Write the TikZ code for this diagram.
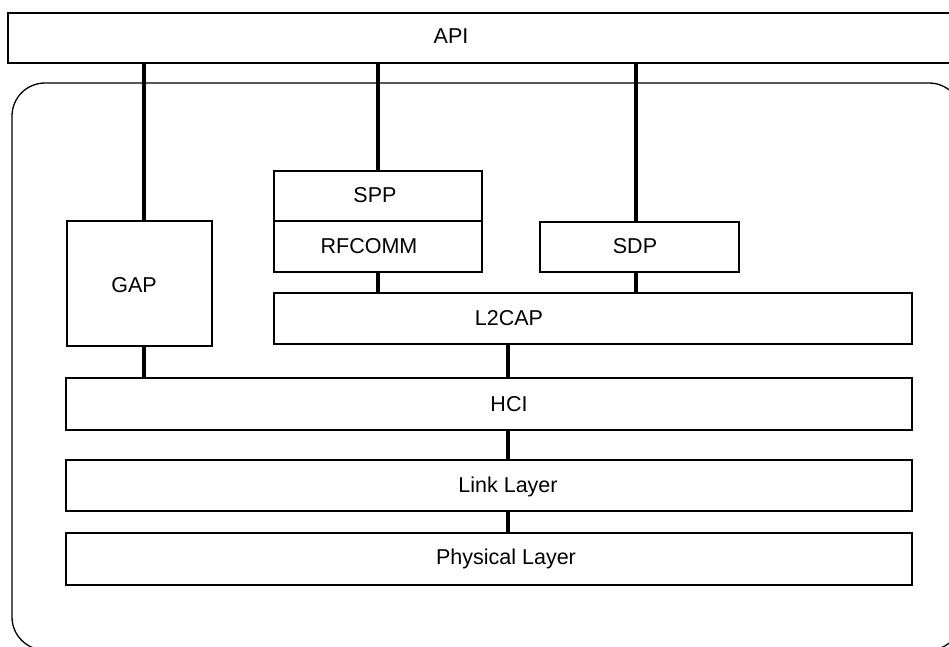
\documentclass[tikz,border=0pt]{standalone}
\usepackage{fontspec}
\setmainfont{Liberation Sans}
\begin{document}
\begin{tikzpicture}[x=1pt,y=-1pt,
  layerbox/.style={draw=black,line width=2pt,rectangle,inner sep=0pt},
  outerbox/.style={draw=black,line width=1.3pt,rounded corners=33pt},
  conn/.style={draw=black,line width=4pt},
  lbl/.style={anchor=base,inner sep=0pt,font=\fontsize{21.5}{24}\selectfont}]
\useasboundingbox (0,0) rectangle (949,646);
\clip (0,0) rectangle (949,646);
% outer rounded frame
\draw[outerbox] (12,83) rectangle (962,650);
% boxes (given by corners)
\node[layerbox,minimum width=952pt,minimum height=50pt] (api) at (484,38) {};
\node[layerbox,minimum width=145pt,minimum height=125pt] (gap) at (139.5,283.5) {};
\node[layerbox,minimum width=208pt,minimum height=50pt] (spp) at (378,196) {};
\node[layerbox,minimum width=208pt,minimum height=51pt] (rfcomm) at (378,246.5) {};
\node[layerbox,minimum width=199pt,minimum height=50pt] (sdp) at (639.5,247) {};
\node[layerbox,minimum width=638pt,minimum height=51pt] (l2cap) at (593,318.5) {};
\node[layerbox,minimum width=846pt,minimum height=52pt] (hci) at (489,404) {};
\node[layerbox,minimum width=846pt,minimum height=51pt] (link) at (489,485.5) {};
\node[layerbox,minimum width=846pt,minimum height=52pt] (phy) at (489,559) {};
% labels
\node[lbl] (apiT) at (451,43) {API};
\node[lbl] (gapT) at (134,292) {GAP};
\node[lbl] (sppT) at (375,202) {SPP};
\node[lbl] (rfcommT) at (369,253) {RFCOMM};
\node[lbl] (sdpT) at (635,253) {SDP};
\node[lbl] (l2capT) at (509,325) {L2CAP};
\node[lbl] (hciT) at (509,411) {HCI};
\node[lbl] (linkT) at (508,492) {Link Layer};
\node[lbl] (phyT) at (506,564) {Physical Layer};
% connector columns
\coordinate (c1) at (144,0);
\coordinate (c2) at (378,0);
\coordinate (c3) at (636,0);
\coordinate (c4) at (508,0);
\draw[conn] (api.south -| c1) -- (gap.north -| c1);
\draw[conn] (api.south -| c2) -- (spp.north -| c2);
\draw[conn] (api.south -| c3) -- (sdp.north -| c3);
\draw[conn] (rfcomm.south -| c2) -- (l2cap.north -| c2);
\draw[conn] (sdp.south -| c3) -- (l2cap.north -| c3);
\draw[conn] (gap.south -| c1) -- (hci.north -| c1);
\draw[conn] (l2cap.south -| c4) -- (hci.north -| c4);
\draw[conn] (hci.south -| c4) -- (link.north -| c4);
\draw[conn] (link.south -| c4) -- (phy.north -| c4);
\end{tikzpicture}
\end{document}
